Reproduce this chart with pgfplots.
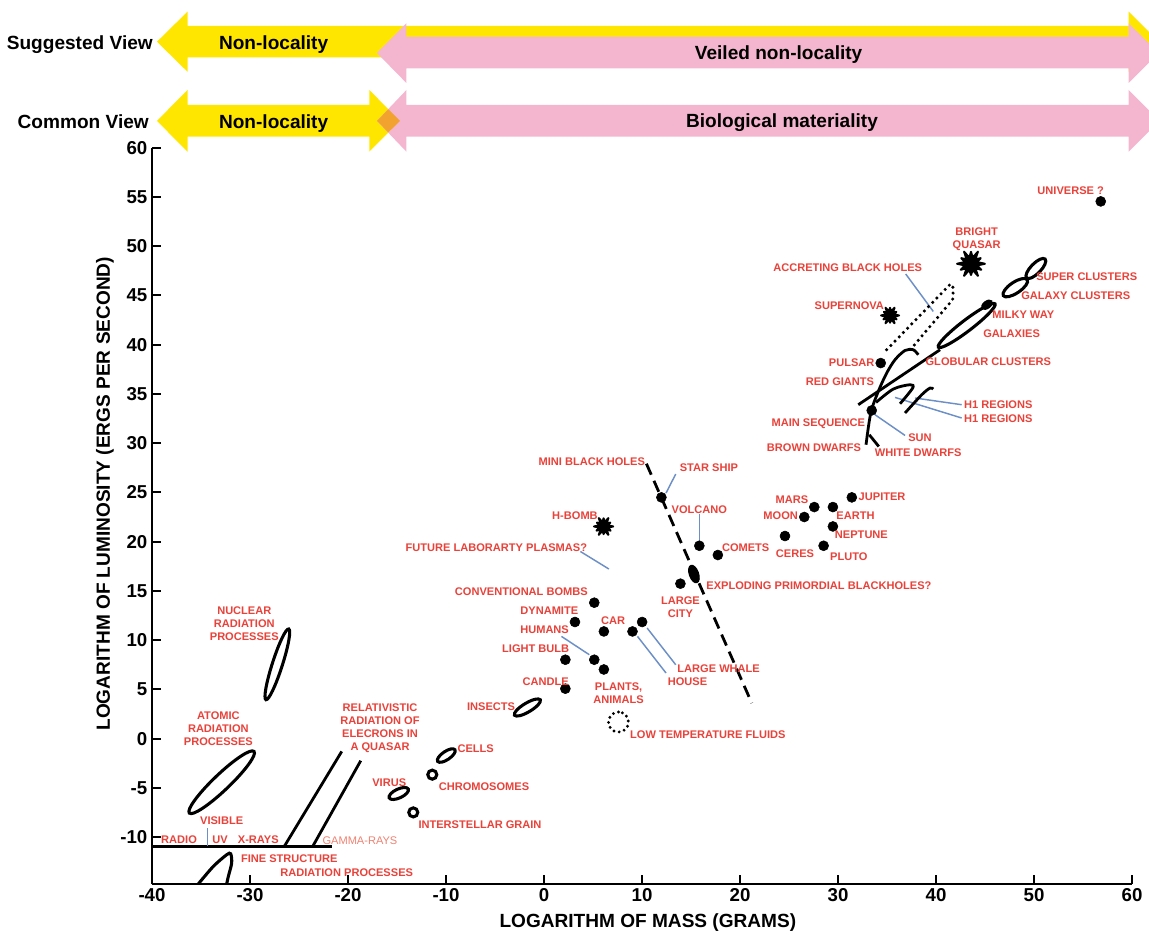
\documentclass[border=0pt]{standalone}
\usepackage{fontspec}
\setmainfont{Liberation Sans}
\usepackage{pgfplots}
\pgfplotsset{compat=1.18}

\definecolor{labred}{HTML}{E8423A}
\definecolor{gammared}{HTML}{EE8272}
\definecolor{leadblue}{HTML}{6C8FC7}
\definecolor{arryellow}{HTML}{FFE600}
\definecolor{arrpink}{HTML}{F4B6CE}
\definecolor{arrorange}{HTML}{F2A22E}

\newcommand{\labfont}{\fontsize{8.3}{9.7}\selectfont\bfseries}
\newcommand{\bigfont}{\fontsize{14.3}{16}\selectfont\bfseries}
\newcommand{\tickfont}{\fontsize{14}{16}\selectfont\bfseries}

\pgfplotsset{
  loop/.style={black, line width=2.3pt, no marks, smooth cycle, tension=1},
  solidloop/.style={black, fill=black, line width=1pt, no marks, smooth cycle, tension=1},
  stroke/.style={black, line width=2.1pt, no marks},
  lead/.style={leadblue, line width=1.1pt, no marks},
  burst/.style={black, fill=black, line width=1.5pt, line join=round, no marks},
}

\begin{document}
\begin{tikzpicture}[lab/.style={font=\labfont, text=labred, inner sep=0pt, align=center}]

% banner arrows, in pixel units of the reference
\begin{scope}[x=0.75pt, y=-0.75pt, shift={(-114pt,663pt)}]
  \path[use as bounding box] (0,0) rectangle (1149,931);
  % suggested view
  \fill[arryellow] (157,41.7) -- (187.5,11.7) -- (187.5,26) -- (1128.7,26) -- (1128.7,11.7)
    -- (1158.7,41.7) -- (1128.7,71.7) -- (1128.7,57.3) -- (187.5,57.3) -- (187.5,71.7) -- cycle;
  \fill[arrpink] (377,53) -- (406.4,23.3) -- (406.4,36.7) -- (1128.7,36.7) -- (1128.7,23.3)
    -- (1158.7,53) -- (1128.7,83) -- (1128.7,68.3) -- (406.4,68.3) -- (406.4,83) -- cycle;
  % common view
  \fill[arryellow] (157,120.9) -- (187.5,90) -- (187.5,105) -- (369.3,105) -- (369.3,90)
    -- (400,120.9) -- (369.3,151.7) -- (369.3,136.7) -- (187.5,136.7) -- (187.5,151.7) -- cycle;
  \fill[arrpink] (377,120.9) -- (406.4,90) -- (406.4,105) -- (1128.7,105) -- (1128.7,90)
    -- (1159.5,120.9) -- (1128.7,151.7) -- (1128.7,136.7) -- (406.4,136.7) -- (406.4,151.7) -- cycle;
  \fill[arrorange] (377,120.9) -- (388.3,109.3) -- (400,120.9) -- (388.3,132.4) -- cycle;

  \node[font=\bigfont, anchor=base east, inner sep=0pt] at (153,50) {Suggested View};
  \node[font=\bigfont, anchor=base east, inner sep=0pt] at (149,128.3) {Common View};
  \node[font=\bigfont, anchor=base, inner sep=0pt] at (273.6,50) {Non-locality};
  \node[font=\bigfont, anchor=base, inner sep=0pt] at (273.6,128.3) {Non-locality};
  \node[font=\bigfont, anchor=base, inner sep=0pt] at (778.6,59.5) {Veiled non-locality};
  \node[font=\bigfont, anchor=base, inner sep=0pt] at (782,127.3) {Biological materiality};
\end{scope}

\begin{axis}[
  at={(0,0)}, anchor=south west,
  scale only axis, width=735pt, height=552.2pt,
  xmin=-40, xmax=60, ymin=-14.75, ymax=60,
  axis x line=bottom, axis y line=left,
  axis line style={-, line width=1.5pt},
  tick style={black, line width=1.5pt},
  tick align=inside, major tick length=6.75pt,
  xtick={-40,-30,...,60}, ytick={-10,-5,...,60},
  ticklabel style={font=\tickfont},
  /pgf/number format/assume math mode=true,
  xlabel={LOGARITHM OF MASS (GRAMS)},
  ylabel={LOGARITHM OF LUMINOSITY (ERGS PER SECOND)},
  label style={font=\bigfont},
  xlabel style={at={(axis description cs:0.506,-0.053)}, anchor=center},
  ylabel style={at={(axis description cs:-0.048,0.53)}, anchor=center},
  clip mode=individual,
]

% spectrum line and relativistic electrons
\addplot[stroke] coordinates {(-40,-10.93) (-21.66,-10.93)};
\addplot[stroke] coordinates {(-20.64,-1.29) (-26.50,-10.93)};
\addplot[stroke] coordinates {(-18.70,-2.23) (-23.60,-10.93)};
\addplot[lead] coordinates {(-34.32,-9.07) (-34.32,-10.93)};

% radiation processes and small bodies
\addplot[loop] coordinates {(-26.05,11.14) (-27.70,7.71) (-28.37,3.96) (-26.72,7.40)};
\addplot[loop] coordinates {(-29.59,-1.29) (-33.45,-3.83) (-36.19,-7.55) (-32.33,-5.01)};
\addplot[stroke, line width=2.3pt, smooth] coordinates {(-35.28,-14.75) (-33.74,-12.96) (-32.38,-11.78)
  (-31.97,-11.68) (-31.87,-12.62) (-32.21,-13.98) (-32.38,-14.75)};
\addplot[loop] coordinates {(-0.38,3.95) (-1.93,3.56) (-3.01,2.39) (-1.46,2.78)};
\addplot[loop] coordinates {(-9.09,-1.12) (-10.21,-1.36) (-10.85,-2.30) (-9.73,-2.06)};
\addplot[loop] coordinates {(-10.94,-3.65) (-11.40,-3.19) (-11.86,-3.65) (-11.40,-4.11)};
\addplot[loop] coordinates {(-13.85,-5.11) (-15.01,-5.15) (-15.79,-6.01) (-14.63,-5.97)};
\addplot[loop] coordinates {(-12.88,-7.48) (-13.34,-7.02) (-13.80,-7.48) (-13.34,-7.94)};
\addplot[loop, line width=2.4pt, line cap=round, dash pattern=on 0pt off 4pt]
  coordinates {(8.62,1.69) (7.60,2.71) (6.58,1.69) (7.60,0.67)};

% mini black holes
\addplot[black, line width=2.1pt, dash pattern=on 9pt off 5pt] coordinates {(10.45,27.92) (21.20,3.62)};
\addplot[solidloop] coordinates {(14.99,17.58) (14.87,16.56) (15.61,15.86) (15.73,16.88)};

% leaders
\addplot[lead] coordinates {(13.44,26.87) (12.45,24.94)};
\addplot[lead] coordinates {(15.85,22.84) (15.85,20.03)};
\addplot[lead] coordinates {(3.71,19.01) (6.62,17.23)};
\addplot[lead] coordinates {(1.78,10.39) (4.62,8.53)};
\addplot[lead] coordinates {(10.52,11.24) (13.44,7.51)};
\addplot[lead] coordinates {(9.54,10.39) (12.45,6.67)};
\addplot[lead] coordinates {(36.91,47.18) (39.72,43.38)};
\addplot[lead] coordinates {(35.82,34.65) (42.62,32.56)};
\addplot[lead] coordinates {(37.86,34.59) (42.62,33.91)};
\addplot[lead] coordinates {(33.78,32.89) (36.84,30.79)};

% stars and galaxies
\addplot[black, line width=2.6pt, line cap=round, dash pattern=on 0pt off 4.5pt]
  coordinates {(34.97,39.49) (41.50,46.19) (41.77,45.76) (41.70,44.57) (37.52,39.66)};
\addplot[stroke] coordinates {(32.07,33.91) (40.41,39.49)};
\addplot[stroke, smooth] coordinates {(32.86,29.85) (33.34,33.07) (34.11,35.26) (34.97,37.13)
  (35.82,38.48) (36.84,39.42) (37.68,39.49) (38.19,38.98)};
\addplot[stroke] coordinates {(33.19,30.86) (34.16,29.67)};
\addplot[stroke, smooth] coordinates {(33.88,34.14) (35.64,35.50) (37.35,35.94) (37.62,35.60) (36.33,34.01)};
\addplot[stroke, smooth] coordinates {(36.84,33.07) (38.54,34.92) (39.39,35.60) (39.72,35.50)};
\addplot[loop] coordinates {(46.02,44.15) (42.79,42.39) (40.24,39.75) (43.47,41.51)};
\addplot[solidloop] coordinates {(45.69,44.43) (44.99,44.34) (44.71,43.69) (45.42,43.78)};
\addplot[loop] coordinates {(51.13,48.70) (49.82,48.09) (49.25,46.78) (50.56,47.39)};
\addplot[loop] coordinates {(49.31,46.60) (47.78,46.26) (46.87,44.98) (48.40,45.33)};

% bright quasar, supernova, h-bomb
\addplot[burst] coordinates {(44.99,48.22) (44.19,48.39) (44.56,48.79) (44.02,48.67) (44.28,49.45)
  (43.74,48.84) (43.57,49.43) (43.40,48.84) (42.86,49.45) (43.12,48.67) (42.58,48.79) (42.95,48.39)
  (42.15,48.22) (42.95,48.05) (42.52,47.61) (43.12,47.77) (42.86,46.99) (43.40,47.60) (43.57,47.08)
  (43.74,47.60) (44.28,46.99) (44.02,47.77) (44.62,47.61) (44.19,48.05)} -- cycle;
\addplot[burst] coordinates {(36.23,42.97) (35.71,43.08) (35.95,43.34) (35.60,43.26) (35.77,43.76)
  (35.42,43.37) (35.31,43.75) (35.20,43.37) (34.85,43.76) (35.02,43.26) (34.68,43.34) (34.91,43.08)
  (34.39,42.97) (34.91,42.86) (34.64,42.58) (35.02,42.68) (34.85,42.18) (35.20,42.57) (35.31,42.24)
  (35.42,42.57) (35.77,42.18) (35.60,42.68) (35.98,42.58) (35.71,42.86)} -- cycle;
\addplot[burst] coordinates {(7.06,21.55) (6.51,21.66) (6.76,21.94) (6.39,21.86) (6.57,22.40)
  (6.19,21.98) (6.08,22.38) (5.97,21.98) (5.59,22.40) (5.77,21.86) (5.40,21.94) (5.66,21.66)
  (5.10,21.55) (5.66,21.44) (5.36,21.13) (5.77,21.24) (5.59,20.70) (5.97,21.13) (6.08,20.77)
  (6.19,21.13) (6.57,20.70) (6.39,21.24) (6.80,21.13) (6.51,21.44)} -- cycle;

% point objects
\addplot[only marks, mark=*, mark size=3.75pt, mark options={draw=black, fill=black}] coordinates {
  (56.81,54.55) (34.36,38.14) (33.44,33.33) (11.98,24.50) (15.85,19.59) (17.74,18.65)
  (27.58,23.52) (31.41,24.50) (26.56,22.51) (29.48,23.52) (29.48,21.55) (24.59,20.58)
  (28.53,19.59) (13.92,15.74) (5.13,13.81) (3.16,11.85) (6.11,10.89) (9.03,10.89)
  (10.01,11.85) (2.18,8.02) (5.13,8.02) (6.11,7.03) (2.18,5.08)};

% labels
\node[lab] at (axis cs:53.74,55.63) {UNIVERSE ?};
\node[lab] at (axis cs:44.15,50.74) {BRIGHT\\QUASAR};
\node[lab] at (axis cs:30.99,47.85) {ACCRETING BLACK HOLES};
\node[lab] at (axis cs:31.15,43.96) {SUPERNOVA};
\node[lab] at (axis cs:55.38,46.93) {SUPER CLUSTERS};
\node[lab] at (axis cs:54.26,44.97) {GALAXY CLUSTERS};
\node[lab] at (axis cs:48.91,43.05) {MILKY WAY};
\node[lab] at (axis cs:47.72,41.12) {GALAXIES};
\node[lab] at (axis cs:45.34,38.24) {GLOBULAR CLUSTERS};
\node[lab] at (axis cs:31.40,38.20) {PULSAR};
\node[lab] at (axis cs:30.20,36.27) {RED GIANTS};
\node[lab] at (axis cs:46.36,33.91) {H1 REGIONS};
\node[lab] at (axis cs:46.36,32.46) {H1 REGIONS};
\node[lab] at (axis cs:27.99,31.98) {MAIN SEQUENCE};
\node[lab] at (axis cs:38.37,30.53) {SUN};
\node[lab] at (axis cs:27.55,29.51) {BROWN DWARFS};
\node[lab] at (axis cs:38.19,29.07) {WHITE DWARFS};
\node[lab] at (axis cs:4.88,28.09) {MINI BLACK HOLES};
\node[lab] at (axis cs:16.83,27.51) {STAR SHIP};
\node[lab] at (axis cs:15.85,23.25) {VOLCANO};
\node[lab] at (axis cs:3.16,22.64) {H-BOMB};
\node[lab] at (axis cs:-4.86,19.42) {FUTURE LABORARTY PLASMAS?};
\node[lab] at (axis cs:20.58,19.42) {COMETS};
\node[lab] at (axis cs:25.29,24.26) {MARS};
\node[lab] at (axis cs:34.50,24.60) {JUPITER};
\node[lab] at (axis cs:24.15,22.67) {MOON};
\node[lab] at (axis cs:31.78,22.67) {EARTH};
\node[lab] at (axis cs:32.39,20.74) {NEPTUNE};
\node[lab] at (axis cs:25.61,18.78) {CERES};
\node[lab] at (axis cs:31.11,18.45) {PLUTO};
\node[lab] at (axis cs:28.05,15.53) {EXPLODING PRIMORDIAL BLACKHOLES?};
\node[lab] at (axis cs:13.92,13.32) {LARGE\\CITY};
\node[lab] at (axis cs:-2.31,14.89) {CONVENTIONAL BOMBS};
\node[lab] at (axis cs:0.54,12.96) {DYNAMITE};
\node[lab] at (axis cs:7.06,11.98) {CAR};
\node[lab] at (axis cs:0.06,11.04) {HUMANS};
\node[lab] at (axis cs:-0.85,9.11) {LIGHT BULB};
\node[lab] at (axis cs:0.17,5.79) {CANDLE};
\node[lab] at (axis cs:7.61,4.59) {PLANTS,\\ANIMALS};
\node[lab] at (axis cs:17.82,7.14) {LARGE WHALE};
\node[lab] at (axis cs:14.64,5.79) {HOUSE};
\node[lab] at (axis cs:-5.40,3.28) {INSECTS};
\node[lab] at (axis cs:16.72,0.41) {LOW TEMPERATURE FLUIDS};
\node[lab] at (axis cs:-6.97,-1.02) {CELLS};
\node[lab] at (axis cs:-6.12,-4.91) {CHROMOSOMES};
\node[lab] at (axis cs:-15.79,-4.50) {VIRUS};
\node[lab] at (axis cs:-6.53,-8.73) {INTERSTELLAR GRAIN};
\node[lab] at (axis cs:-16.73,1.09) {RELATIVISTIC\\RADIATION OF\\ELECRONS IN\\A QUASAR};
\node[lab, text=gammared, font=\fontsize{8.3}{9.7}\selectfont] at (axis cs:-18.78,-10.32) {GAMMA-RAYS};
\node[lab] at (axis cs:-25.99,-12.21) {FINE STRUCTURE};
\node[lab] at (axis cs:-20.13,-13.57) {RADIATION PROCESSES};
\node[lab] at (axis cs:-37.24,-10.25) {RADIO};
\node[lab] at (axis cs:-33.06,-10.25) {UV};
\node[lab] at (axis cs:-29.15,-10.25) {X-RAYS};
\node[lab] at (axis cs:-32.89,-8.32) {VISIBLE};
\node[lab] at (axis cs:-33.23,1.01) {ATOMIC\\RADIATION\\PROCESSES};
\node[lab] at (axis cs:-30.58,11.68) {NUCLEAR\\RADIATION\\PROCESSES};

\end{axis}
\end{tikzpicture}
\end{document}
